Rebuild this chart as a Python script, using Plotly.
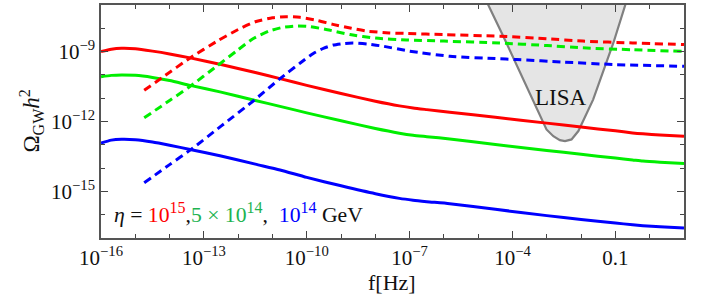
import numpy as np
import plotly.graph_objects as go

# ---- data (log10 values) ----
logf_solid = [-16, -15.7, -15.4, -15, -14.5, -14, -13.4, -12.5, -11.5, -10.78, -10, -9, -8, -7.3,
              -6.9, -6.5, -5.83, -4.5, -3, -2, -1, -0.5, -0.2, 0.3, 1]
logO_red_solid = [-9.0, -8.9, -8.86, -8.88, -8.98, -9.1, -9.27, -9.55, -9.9, -10.16, -10.45, -10.8,
                  -11.13, -11.33, -11.42, -11.49, -11.6, -11.82, -12.07, -12.24, -12.4, -12.49,
                  -12.53, -12.58, -12.63]
logO_green_solid = [-10.08, -10.02, -10.0, -10.02, -10.11, -10.24, -10.45, -10.74, -11.1, -11.35,
                    -11.63, -11.97, -12.3, -12.5, -12.59, -12.65, -12.75, -12.99, -13.24, -13.41,
                    -13.57, -13.65, -13.7, -13.75, -13.8]
logO_blue_solid = [-12.93, -12.8, -12.76, -12.78, -12.88, -13.02, -13.2, -13.48, -13.83, -14.08,
                   -14.4, -14.76, -15.1, -15.3, -15.38, -15.44, -15.53, -15.77, -16.04, -16.21,
                   -16.36, -16.43, -16.47, -16.52, -16.57]

logf_red_dash = [-14.74, -14.2, -13.4, -12.6, -12, -11.5, -11, -10.6, -10.2, -9.7, -9.24, -8.7,
                 -8.25, -7.6, -7.09, -6, -4.37, -3, -1.95, -0.5, 1]
logO_red_dash = [-10.66, -10.1, -9.27, -8.54, -8.05, -7.72, -7.55, -7.5, -7.53, -7.66, -7.83, -8.0,
                 -8.12, -8.2, -8.22, -8.27, -8.34, -8.45, -8.55, -8.63, -8.7]

logf_green_dash = [-14.74, -14, -13.4, -12.63, -12, -11.57, -11.1, -10.7, -10.3, -9.9, -9.4, -8.74,
                   -8, -7.09, -6, -4.37, -3, -1.95, -0.5, 1]
logO_green_dash = [-11.84, -11.1, -10.49, -9.63, -8.92, -8.45, -8.12, -7.96, -7.9, -7.93, -8.06,
                   -8.27, -8.42, -8.5, -8.55, -8.63, -8.74, -8.84, -8.92, -8.99]

logf_blue_dash = [-14.74, -14, -13.4, -12.5, -11.57, -10.78, -10.2, -9.81, -9.5, -9.23, -8.9, -8.65,
                  -8.2, -7.77, -7, -5.83, -4.5, -3.88, -2.5, -0.97, 1]
logO_blue_dash = [-14.63, -13.85, -13.23, -12.2, -11.13, -10.16, -9.5, -9.08, -8.85, -8.72, -8.65,
                  -8.63, -8.68, -8.77, -8.98, -9.2, -9.3, -9.34, -9.45, -9.56, -9.63]

logf_lisa = [-5.0, -4.71, -4.27, -3.59, -3.01, -2.81, -2.62, -2.47, -2.28, -2.08, -1.65, -1.06,
             -0.72, -0.5, -5.0]
logO_lisa = [-6.0, -6.99, -8.34, -10.49, -12.34, -12.63, -12.80, -12.84, -12.77, -12.41, -11.06,
             -8.63, -7.0, -6.0, -6.0]

x_tick_vals = [1e-16, 1e-13, 1e-10, 1e-7, 1e-4, 1e-1]
x_tick_text = ["10<sup>−16</sup>", "10<sup>−13</sup>", "10<sup>−10</sup>", "10<sup>−7</sup>",
               "10<sup>−4</sup>", "0.1"]
y_tick_vals = [1e-15, 1e-12, 1e-9]
y_tick_text = ["10<sup>−15</sup>", "10<sup>−12</sup>", "10<sup>−9</sup>"]

RED, GREEN, BLUE = "#ff0000", "#00ee00", "#0000ff"
LEG_GREEN = "#1db350"


def p(v):
    return (10.0 ** np.asarray(v, dtype=float)).tolist()


fig = go.Figure()
fig.add_trace(go.Scatter(x=p(logf_lisa), y=p(logO_lisa), mode="lines", fill="toself",
                         fillcolor="#e5e5e5", line=dict(color="#808080", width=2.2),
                         hoverinfo="skip"))

for lf, lo, c in [(logf_solid, logO_red_solid, RED), (logf_solid, logO_green_solid, GREEN),
                  (logf_solid, logO_blue_solid, BLUE)]:
    fig.add_trace(go.Scatter(x=p(lf), y=p(lo), mode="lines",
                             line=dict(color=c, width=3, shape="spline", smoothing=0.6)))
for lf, lo, c in [(logf_red_dash, logO_red_dash, RED), (logf_green_dash, logO_green_dash, GREEN),
                  (logf_blue_dash, logO_blue_dash, BLUE)]:
    fig.add_trace(go.Scatter(x=p(lf), y=p(lo), mode="lines",
                             line=dict(color=c, width=3, dash="8px,5px", shape="spline",
                                       smoothing=0.6)))

FONT = "'Liberation Serif', 'Times New Roman', Times, serif"
axis_common = dict(type="log", showgrid=False, zeroline=False, showline=True, linecolor="#555555",
                   linewidth=1.5, mirror="ticks", ticks="inside", ticklen=7, tickwidth=1.2,
                   tickcolor="#444444", tickmode="array", automargin=False,
                   tickfont=dict(family=FONT, size=21, color="#111111"))

NB = "\u00a0"
legend_text = ("<i>η</i>" + NB + "=" + NB +
               "<span style='color:%s'>10<sup><span style='font-size:16px'>15</span></sup></span>," % RED +
               "<span style='color:%s'>5" % LEG_GREEN + NB + "×" + NB +
               "10<sup><span style='font-size:16px'>14</span></sup></span>," + NB + NB +
               "<span style='color:%s'>10<sup><span style='font-size:16px'>14</span></sup></span>" % BLUE +
               NB + "GeV")

fig.update_layout(
    width=707, height=304, margin=dict(l=101, r=23, t=5, b=66),
    paper_bgcolor="white", plot_bgcolor="white", showlegend=False,
    font=dict(family=FONT),
    xaxis=dict(axis_common, range=[-16, 1], tickvals=x_tick_vals, ticktext=x_tick_text,
               minor=dict(tickvals=p(list(range(-16, 2))), ticks="inside", ticklen=4,
                          tickcolor="#444444", tickwidth=1)),
    yaxis=dict(axis_common, range=[-17, -7], tickvals=y_tick_vals, ticktext=y_tick_text,
               minor=dict(tickvals=p(list(range(-17, -6))), ticks="inside", ticklen=4,
                          tickcolor="#444444", tickwidth=1)),
    annotations=[
        dict(text="LISA", x=-2.58, y=-10.97, xref="x", yref="y", showarrow=False,
             font=dict(family=FONT, size=23, color="#111111")),
        dict(text="f[Hz]", x=0.499, y=-0.19, xref="paper", yref="paper", showarrow=False,
             xanchor="center", yanchor="middle", font=dict(family=FONT, size=22, color="#111111")),
        dict(text="Ω<sub>GW</sub><i>h</i><sup>2</sup>", x=-0.12, y=0.5, xref="paper",
             yref="paper", showarrow=False, textangle=-90, xanchor="center", yanchor="middle",
             font=dict(family=FONT, size=23, color="#111111")),
        dict(text=legend_text, x=0.019, y=0.107, xref="paper", yref="paper", showarrow=False,
             xanchor="left", yanchor="middle", font=dict(family=FONT, size=21.7, color="#111111")),
    ],
)

fig.write_html("out.html", config={"displayModeBar": False},
               post_script="document.body.style.margin='0px';")
